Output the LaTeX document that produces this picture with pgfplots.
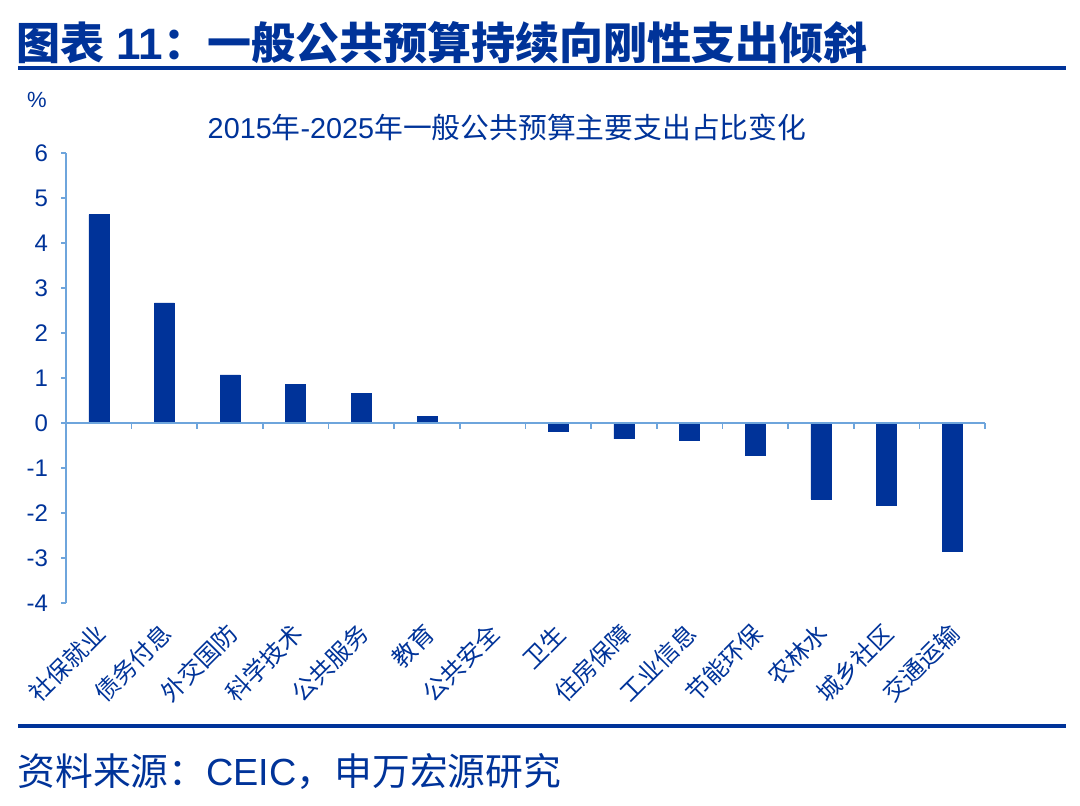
\documentclass[border=0pt]{standalone}
\usepackage{pgfplots}
\pgfplotsset{compat=1.18}
\usepackage{pgfplotstable}
\usepackage{fontspec}
\setmainfont{Liberation Sans}
\newfontfamily\cjk{Noto Sans CJK SC}
\definecolor{tb}{RGB}{0,51,153}
\definecolor{ax}{RGB}{110,165,220}

\pgfplotstableread{
x y
0 4.63
1 2.67
2 1.07
3 0.85
4 0.65
5 0.15
6 0.00
7 -0.18
8 -0.35
9 -0.39
10 -0.71
11 -1.69
12 -1.83
13 -2.84
}\datatable

\begin{document}
\begin{tikzpicture}
\begin{scope}[x=0.5pt,y=-0.5pt]
\useasboundingbox (0,0) rectangle (1080,805);
\node[anchor=west,text=tb,font=\fontsize{22}{25}\selectfont\bfseries,inner sep=0] at (16,43) {{\cjk 图表} 11{\cjk ：一般公共预算持续向刚性支出倾斜}};
\draw[tb,line width=2pt] (18,68) -- (1066,68);
\draw[tb,line width=2pt] (18,726) -- (1066,726);
\node[anchor=west,text=tb,font=\fontsize{18.9}{22}\selectfont,inner sep=0] at (17,771) {{\cjk 资料来源：}CEIC{\cjk ，申万宏源研究}};
\node[text=tb,font=\fontsize{11}{13}\selectfont,inner sep=0] at (37,100) {\%};
\node[text=tb,font=\fontsize{14.4}{17}\selectfont,inner sep=0] at (507,127) {2015{\cjk 年}-2025{\cjk 年一般公共预算主要支出占比变化}};
\coordinate (ll) at (66,603);
\end{scope}
\begin{axis}[at={(ll)}, anchor=south west, scale only axis,
  width=459.5pt, height=225pt,
  xmin=-0.5, xmax=13.5, ymin=-4, ymax=6,
  axis x line*=bottom, axis y line*=left,
  x axis line style={draw=none},
  y axis line style={ax, line width=0.8pt},
  every x tick/.style={draw=none},
  every y tick/.style={ax, line width=0.8pt},
  tick align=outside, major tick length=2.5pt,
  ytick={-4,-3,-2,-1,0,1,2,3,4,5,6},
  yticklabels={-4,-3,-2,-1,0,1,2,3,4,5,6},
  yticklabel style={text=tb, font=\fontsize{12}{14}\selectfont, xshift=-3pt},
  xtick={0,...,13},
  xticklabels={社保就业,债务付息,外交国防,科学技术,公共服务,教育,公共安全,卫生,住房保障,工业信息,节能环保,农林水,城乡社区,交通运输},
  xticklabel shift=12pt,
  xticklabel style={rotate=45, anchor=east, inner sep=0pt, xshift=2pt, text=tb, font=\fontsize{12}{14}\selectfont\cjk},
  ybar, bar width=10pt, bar shift=0pt,
  clip=false]
\addplot[fill=tb, draw=tb, line width=0.3pt] table[x=x,y=y] {\datatable};
\draw[ax, line width=0.8pt] (axis cs:-0.5,0) -- (axis cs:13.5,0);
\pgfplotsinvokeforeach{0,...,14}{\draw[ax, line width=0.8pt] (axis cs:#1-0.5,0) -- ([yshift=-3pt]axis cs:#1-0.5,0);}
\end{axis}
\end{tikzpicture}
\end{document}
